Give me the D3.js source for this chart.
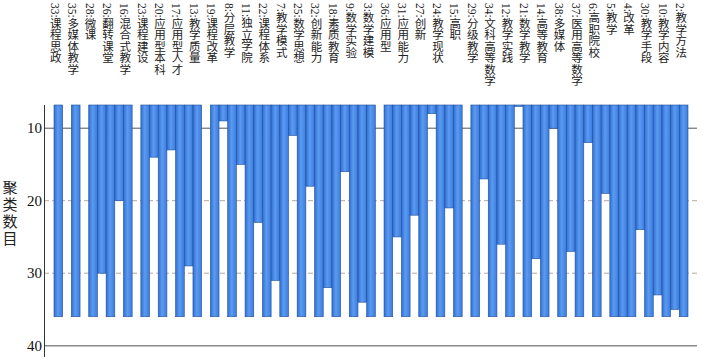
<!DOCTYPE html>
<html>
<head>
<meta charset="utf-8">
<script src="https://cdn.jsdelivr.net/npm/d3@7"></script>
<style>
  body { margin: 0; background: #fff; }
  svg { display: block; }
</style>
</head>
<body>
<svg id="chart" width="703" height="357"></svg>
<script>
// cases, in icicle order (left to right)
var caseLabels = ["33:课程思政","35:多媒体教学","28:微课","26:翻转课堂","16:混合式教学","23:课程建设",
  "20:应用型本科","17:应用型人才","13:教学质量","19:课程改革","8:分层教学","11:独立学院","22:课程体系",
  "7:教学模式","25:数学思想","32:创新能力","18:素质教育","9:数学实验","3:数学建模","36:应用型",
  "31:应用能力","27:创新","24:教学现状","15:高职","29:分级教学","34:文科高等数学","12:教学实践",
  "21:数学教学","14:高等教育","38:多媒体","37:医用高等数学","6:高职院校","5:教学","4:改革",
  "30:教学手段","10:教学内容","2:教学方法"];
// number of clusters at which two neighbouring cases are still separate (null = joined above the plot)
var gapLevels = [null, null, 30, 20, null, 14, 13, 29, null, 9, 15, 23, 31, 11, 18, 32, 16, 34,
  null, 25, 22, 8, 21, null, 17, 26, 7, 28, 10, 27, 12, 19, 36, 24, 33, 35];
var caseLevel = 36;
var yTicks = [10, 20, 30, 40];
var yTitle = "聚类数目";

var svg = d3.select("#chart");
var x = d3.scaleBand().domain(d3.range(caseLabels.length * 2 - 1)).range([54, 688]).padding(0);
var y = d3.scaleLinear().domain([6.8, 40]).range([105, 345.7]);

var defs = svg.append("defs");
var grad = defs.append("linearGradient").attr("id", "barGrad").attr("x1", 0).attr("x2", 1).attr("y1", 0).attr("y2", 0);
grad.append("stop").attr("offset", "0%").attr("stop-color", "#2f6fd6");
grad.append("stop").attr("offset", "45%").attr("stop-color", "#5b9bef");
grad.append("stop").attr("offset", "100%").attr("stop-color", "#3a7be0");

// gridlines
svg.append("g").selectAll("line")
  .data(yTicks)
  .enter()
  .append("line")
  .attr("x1", 44).attr("x2", 697)
  .attr("y1", d => y(d)).attr("y2", d => y(d))
  .attr("stroke", d => d == 40 ? "#8a8a8a" : (d == 10 ? "#555" : "#b8a898"))
  .attr("stroke-width", d => d == 40 ? 1.5 : 1)
  .attr("stroke-dasharray", d => (d == 20 || d == 30) ? "5,3" : null);

// columns: even = case, odd = gap between cases
var cols = [];
caseLabels.forEach(function(c, i) {
  cols.push({ idx: 2 * i, level: caseLevel });
  if (i < gapLevels.length && gapLevels[i] != null) cols.push({ idx: 2 * i + 1, level: gapLevels[i] });
});

svg.append("g").selectAll("rect")
  .data(cols)
  .enter()
  .append("rect")
  .attr("x", d => x(d.idx))
  .attr("y", y(6.8))
  .attr("width", x.bandwidth())
  .attr("height", d => y(d.level) - y(6.8))
  .attr("fill", "url(#barGrad)")
  .attr("stroke", "#22509c")
  .attr("stroke-width", 0.6);

// y axis
svg.append("line")
  .attr("x1", 44.5).attr("x2", 44.5)
  .attr("y1", 105).attr("y2", 357)
  .attr("stroke", "#333").attr("stroke-width", 1);

svg.append("g").selectAll("text")
  .data(yTicks)
  .enter()
  .append("text")
  .attr("x", 42)
  .attr("y", d => y(d))
  .attr("dy", "0.35em")
  .attr("text-anchor", "end")
  .style("font-family", "'Liberation Serif', serif")
  .style("font-size", "15px")
  .attr("fill", "#111")
  .text(d => d);

svg.append("text")
  .attr("x", 10)
  .attr("y", 180)
  .style("writing-mode", "vertical-rl")
  .style("font-family", "'Noto Sans CJK SC', sans-serif")
  .style("font-size", "15px")
  .style("letter-spacing", "2px")
  .attr("fill", "#222")
  .text(yTitle);

// case labels along the top
svg.append("g").selectAll("text")
  .data(caseLabels)
  .enter()
  .append("text")
  .attr("x", (d, i) => x(2 * i) + x.bandwidth() / 2 - 3.5)
  .attr("y", 3)
  .style("writing-mode", "vertical-rl")
  .style("text-orientation", "mixed")
  .style("font-family", "'Liberation Serif', 'Noto Sans CJK SC', serif")
  .style("font-size", "11.5px")
  .attr("fill", "#222")
  .text(d => d);
</script>
</body>
</html>
